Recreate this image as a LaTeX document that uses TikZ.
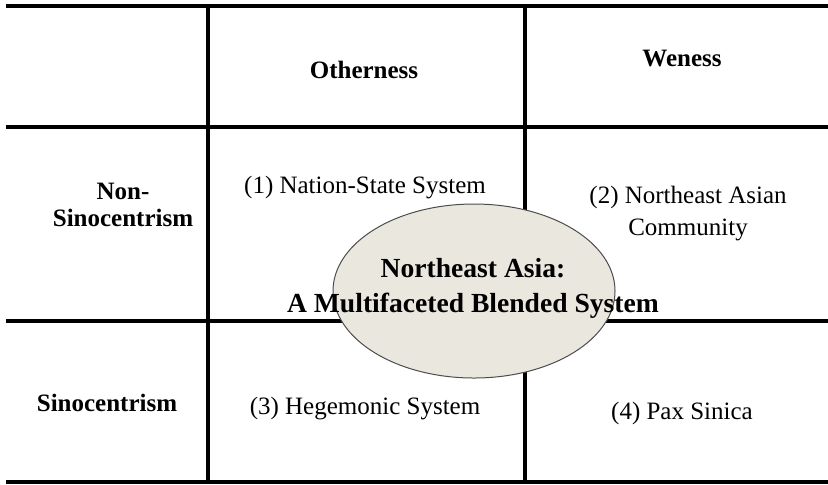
\documentclass[tikz,border=0pt]{standalone}
\usepackage{fontspec}
\setmainfont{Liberation Serif}
\usetikzlibrary{shapes.geometric}
\begin{document}
\begin{tikzpicture}[x=0.5pt,y=-0.5pt,
  grid/.style={line width=2pt,black},
  hdr/.style={font=\fontsize{12.5}{15}\selectfont\bfseries,align=center,inner sep=0pt},
  cell/.style={font=\fontsize{12.5}{16}\selectfont,align=center,inner sep=0pt},
  blob/.style={ellipse,draw=black!70,line width=0.5pt,fill=blobfill,minimum width=141pt,minimum height=87pt,inner sep=0pt}]
\definecolor{blobfill}{HTML}{EAE7DF}
\useasboundingbox (0,0) rectangle (828,484);
% grid
\draw[grid] (6,6) -- (828,6);
\draw[grid] (6,127) -- (828,127);
\draw[grid] (6,321) -- (828,321);
\draw[grid] (6,482) -- (828,482);
\draw[grid] (208,6) -- (208,482);
\draw[grid] (525,6) -- (525,482);
% headers
\node[hdr] (oth) at (364,70) {Otherness};
\node[hdr] (wen) at (682,58) {Weness};
\node[hdr,font=\fontsize{12.5}{13.5}\selectfont\bfseries] (nons) at (123,205) {Non-\\Sinocentrism};
\node[hdr] (sino) at (107,403) {Sinocentrism};
% cells
\node[cell] (c1) at (365,188) {(1) Nation-State System};
\node[cell] (c2) at (688,214) {(2) Northeast Asian\\Community};
\node[cell] (c3) at (365,409) {(3) Hegemonic System};
\node[cell] (c4) at (682,413) {(4) Pax Sinica};
% central ellipse
\node[blob] (ell) at (474,291) {};
\node[hdr,font=\fontsize{13.8}{17.5}\selectfont\bfseries] (ellt) at (473,288) {Northeast Asia:\\A Multifaceted Blended System};
\end{tikzpicture}
\end{document}
